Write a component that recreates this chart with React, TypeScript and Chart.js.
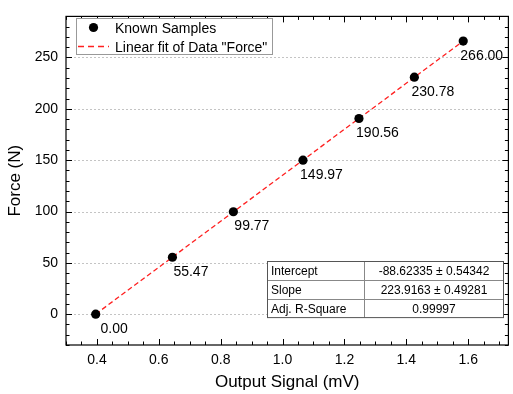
import { useEffect, useRef } from 'react';
import { Chart, registerables } from 'chart.js';

Chart.register(...registerables);

// ---- data ----
const signalMV = [0.396, 0.644, 0.841, 1.066, 1.247, 1.426, 1.584];
const forceN = [0.0, 55.47, 99.77, 149.97, 190.56, 230.78, 266.0];
const pointLabels = ['0.00', '55.47', '99.77', '149.97', '190.56', '230.78', '266.00'];
const fitX = [0.396, 1.584];
const fitY = [0.05, 266.06];
const xTicks = [0.4, 0.6, 0.8, 1.0, 1.2, 1.4, 1.6];
const yTicks = [0, 50, 100, 150, 200, 250];
const legendLabels = ['Known Samples', 'Linear fit of Data "Force"'];
const tableNames = ['Intercept', 'Slope', 'Adj. R-Square'];
const tableValues = ['-88.62335 ± 0.54342', '223.9163 ± 0.49281', '0.99997'];

const FONT = '"Liberation Sans", Arial, sans-serif';
const X_MIN = 0.3;
const X_MAX = 1.73;
const Y_MIN = -30;
const Y_MAX = 290;
const X_MINOR = 0.05;
const Y_MINOR = 10;

const overlay = {
  id: 'overlay',
  beforeDatasetsDraw(chart: any) {
    const { ctx, chartArea: a, scales } = chart;
    const y = scales.y;
    ctx.save();
    ctx.strokeStyle = '#c4c4c4';
    ctx.lineWidth = 1;
    ctx.setLineDash([2, 2]);
    for (const v of yTicks) {
      const py = Math.round(y.getPixelForValue(v)) + 0.5;
      ctx.beginPath();
      ctx.moveTo(a.left, py);
      ctx.lineTo(a.right, py);
      ctx.stroke();
    }
    ctx.restore();
  },
  afterDatasetsDraw(chart: any) {
    const { ctx, chartArea: a, scales } = chart;
    const x = scales.x;
    const y = scales.y;
    ctx.save();

    // data labels
    ctx.fillStyle = '#000';
    ctx.font = `14px ${FONT}`;
    ctx.textAlign = 'center';
    ctx.textBaseline = 'alphabetic';
    signalMV.forEach((sx, i) => {
      const px = x.getPixelForValue(sx);
      const py = y.getPixelForValue(forceN[i]);
      ctx.fillText(pointLabels[i], px + 18.5, py + 18.5);
    });

    // frame
    ctx.strokeStyle = '#000';
    ctx.lineWidth = 1.2;
    ctx.setLineDash([]);
    ctx.strokeRect(a.left, a.top, a.right - a.left, a.bottom - a.top);

    // ticks (inward)
    ctx.lineWidth = 1;
    const major = 6;
    const minor = 3.5;
    ctx.beginPath();
    const nx = Math.round((X_MAX - X_MIN) / X_MINOR);
    for (let k = 0; k <= nx; k++) {
      const v = X_MIN + k * X_MINOR;
      if (v > X_MAX + 1e-9) break;
      const isMajor = xTicks.some((t) => Math.abs(t - v) < 1e-6);
      const len = isMajor ? major : minor;
      const px = Math.round(x.getPixelForValue(v)) + 0.5;
      ctx.moveTo(px, a.bottom);
      ctx.lineTo(px, a.bottom - len);
      ctx.moveTo(px, a.top);
      ctx.lineTo(px, a.top + len);
    }
    for (let v = Y_MIN; v <= Y_MAX; v += Y_MINOR) {
      const isMajor = yTicks.includes(v);
      const len = isMajor ? major : minor;
      const py = Math.round(y.getPixelForValue(v)) + 0.5;
      ctx.moveTo(a.left, py);
      ctx.lineTo(a.left + len, py);
      ctx.moveTo(a.right, py);
      ctx.lineTo(a.right - len, py);
    }
    ctx.stroke();

    // legend box
    const lx = 76.5, ly = 18.5, lw = 196, lh = 36;
    ctx.fillStyle = '#fff';
    ctx.fillRect(lx, ly, lw, lh);
    ctx.strokeStyle = '#999';
    ctx.lineWidth = 1;
    ctx.strokeRect(lx, ly, lw, lh);
    ctx.fillStyle = '#000';
    ctx.beginPath();
    ctx.arc(93.5, 27.5, 4.6, 0, Math.PI * 2);
    ctx.fill();
    ctx.strokeStyle = '#ff2020';
    ctx.lineWidth = 1.3;
    ctx.setLineDash([6, 4]);
    ctx.beginPath();
    ctx.moveTo(78, 46.5);
    ctx.lineTo(109, 46.5);
    ctx.stroke();
    ctx.setLineDash([]);
    ctx.fillStyle = '#000';
    ctx.font = `14px ${FONT}`;
    ctx.textAlign = 'left';
    ctx.fillText(legendLabels[0], 115, 32.5);
    ctx.fillText(legendLabels[1], 115, 51.5);

    // fit table
    const tx = 267.5, ty = 261.5, c1 = 364.5, tr = 503.5, rh = 18.7;
    const tb = ty + rh * tableNames.length;
    ctx.fillStyle = '#fff';
    ctx.fillRect(tx, ty, tr - tx, tb - ty);
    ctx.strokeStyle = '#888';
    ctx.lineWidth = 1;
    ctx.beginPath();
    for (let r = 1; r < tableNames.length; r++) {
      const ry = Math.round(ty + r * rh) + 0.5;
      ctx.moveTo(tx, ry);
      ctx.lineTo(tr, ry);
    }
    ctx.moveTo(c1, ty);
    ctx.lineTo(c1, tb);
    ctx.stroke();
    ctx.strokeStyle = '#555';
    ctx.strokeRect(tx, ty, tr - tx, tb - ty);
    ctx.fillStyle = '#000';
    ctx.font = `12px ${FONT}`;
    tableNames.forEach((name, r) => {
      const cy = ty + r * rh + rh / 2 + 4.3;
      ctx.textAlign = 'left';
      ctx.fillText(name, 271, cy);
      ctx.textAlign = 'center';
      ctx.fillText(tableValues[r], (c1 + tr) / 2, cy);
    });

    ctx.restore();
  },
};

export default function App() {
  const ref = useRef<HTMLCanvasElement | null>(null);
  useEffect(() => {
    document.body.style.margin = '0';
    document.body.style.overflow = 'hidden';
    const canvas = ref.current;
    if (!canvas) return;
    const chart = new Chart(canvas, {
      type: 'scatter',
      data: {
        datasets: [
          {
            label: legendLabels[0],
            data: signalMV.map((v, i) => ({ x: v, y: forceN[i] })),
            backgroundColor: '#000',
            borderColor: '#000',
            pointRadius: 4.6,
            pointBorderWidth: 0,
            showLine: false,
          },
          {
            label: legendLabels[1],
            data: fitX.map((v, i) => ({ x: v, y: fitY[i] })),
            showLine: true,
            borderColor: '#ff2020',
            borderWidth: 1.3,
            borderDash: [5, 3],
            pointRadius: 0,
            fill: false,
          } as any,
        ],
      },
      options: {
        responsive: false,
        animation: false,
        layout: { padding: { top: 11, right: 2, left: 0, bottom: 0 } },
        plugins: { legend: { display: false }, tooltip: { enabled: false } },
        scales: {
          x: {
            type: 'linear',
            min: X_MIN,
            max: X_MAX,
            grid: { display: false, drawTicks: false },
            border: { display: false },
            afterBuildTicks: (s: any) => {
              s.ticks = xTicks.map((v) => ({ value: v }));
            },
            afterFit: (s: any) => {
              s.height = 49;
            },
            ticks: {
              callback: (v: any) => Number(v).toFixed(1),
              font: { size: 14, family: FONT },
              color: '#000',
              padding: 7,
              maxRotation: 0,
              autoSkip: false,
            },
            title: {
              display: true,
              text: 'Output Signal (mV)',
              font: { size: 17, family: FONT },
              color: '#000',
              padding: { top: 0, bottom: 1 },
            },
          },
          y: {
            type: 'linear',
            min: Y_MIN,
            max: Y_MAX,
            grid: { display: false, drawTicks: false },
            border: { display: false },
            afterBuildTicks: (s: any) => {
              s.ticks = yTicks.map((v) => ({ value: v }));
            },
            afterFit: (s: any) => {
              s.width = 66;
            },
            ticks: {
              callback: (v: any) => String(v),
              font: { size: 14, family: FONT },
              color: '#000',
              padding: 8,
              autoSkip: false,
            },
            title: {
              display: true,
              text: 'Force (N)',
              font: { size: 17, family: FONT },
              color: '#000',
              padding: { top: 5, bottom: 0 },
            },
          },
        },
      },
      plugins: [overlay],
    } as any);
    return () => chart.destroy();
  }, []);
  return (
    <div style={{ position: 'absolute', left: 0, top: 0, width: 513, height: 394 }}>
      <canvas ref={ref} width={513} height={394} style={{ display: 'block' }} />
    </div>
  );
}
